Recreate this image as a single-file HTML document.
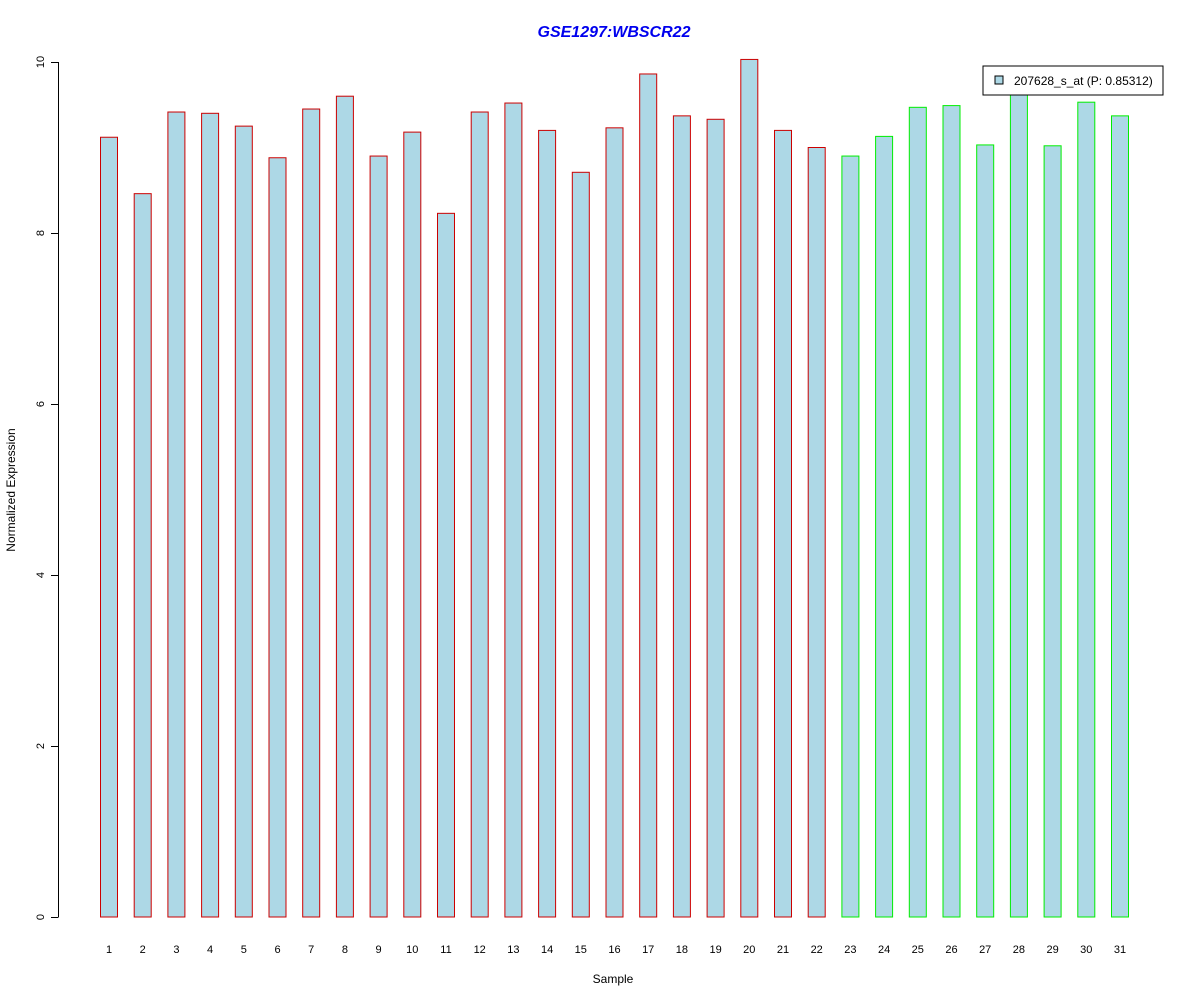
<!DOCTYPE html>
<html><head><meta charset="utf-8"><style>
body{margin:0;background:#fff;font-family:"Liberation Sans",Arial,sans-serif}
</style></head><body>
<svg id="chart" width="1200" height="1000" xmlns="http://www.w3.org/2000/svg" font-family="Liberation Sans, Arial, sans-serif">
<text x="614" y="37" text-anchor="middle" font-size="16" font-weight="bold" font-style="italic" fill="#0000ee">GSE1297:WBSCR22</text>
<text x="613" y="983" text-anchor="middle" font-size="12">Sample</text>
<text x="15" y="490" text-anchor="middle" font-size="12" transform="rotate(-90 15 490)">Normalized Expression</text>
<g id="bars"></g><g id="yaxis"></g><g id="xlabels"></g>
<g>
<rect x="983" y="66" width="180" height="29" fill="#fff" stroke="#000"/>
<rect x="995" y="76" width="8" height="8" fill="#add8e6" stroke="#000"/>
<text x="1014" y="85" font-size="12">207628_s_at (P: 0.85312)</text>
</g>
</svg>
<script>
const categories=["1","2","3","4","5","6","7","8","9","10","11","12","13","14","15","16","17","18","19","20","21","22","23","24","25","26","27","28","29","30","31"];
const values=[9.12,8.46,9.415,9.40,9.25,8.88,9.45,9.60,8.90,9.18,8.23,9.415,9.52,9.20,8.71,9.23,9.86,9.37,9.33,10.03,9.20,9.0,8.90,9.13,9.47,9.49,9.03,9.75,9.02,9.53,9.37];
const groups=[0,0,0,0,0,0,0,0,0,0,0,0,0,0,0,0,0,0,0,0,0,0,1,1,1,1,1,1,1,1,1];
const yTicks=[0,2,4,6,8,10];
const NS="http://www.w3.org/2000/svg";
function y(v){return 917-v*85.5;}
function x(i){return 100+i*33.7;}
const bw=17;
const bars=document.getElementById('bars');
values.forEach((v,i)=>{
 const r=document.createElementNS(NS,'rect');
 
 
 r.setAttribute('x',x(i)+0.5);r.setAttribute('y',y(v));
 r.setAttribute('width',bw);r.setAttribute('height',917-y(v));
 r.setAttribute('fill','#add8e6');r.setAttribute('stroke',groups[i]?'#00ee00':'#cc0000');
 bars.appendChild(r);
 const t=document.createElementNS(NS,'text');
 
 
 t.setAttribute('x',x(i)+bw/2+0.5);t.setAttribute('y',953);
 t.setAttribute('text-anchor','middle');t.setAttribute('font-size','11');
 t.textContent=categories[i];
 document.getElementById('xlabels').appendChild(t);
});
const ya=document.getElementById('yaxis');
const ax=document.createElementNS(NS,'line');


ax.setAttribute('x1',58.5);ax.setAttribute('x2',58.5);ax.setAttribute('y1',y(0));ax.setAttribute('y2',y(10));ax.setAttribute('stroke','#000');
ya.appendChild(ax);
yTicks.forEach(v=>{
 const l=document.createElementNS(NS,'line');
 
 
 l.setAttribute('x1',51);l.setAttribute('x2',58.5);l.setAttribute('y1',y(v)+0.5);l.setAttribute('y2',y(v)+0.5);l.setAttribute('stroke','#000');
 ya.appendChild(l);
 const t=document.createElementNS(NS,'text');
 
 
 t.setAttribute('x',44);t.setAttribute('y',y(v));
 t.setAttribute('text-anchor','middle');t.setAttribute('font-size','11');
 t.setAttribute('transform','rotate(-90 44 '+y(v)+')');
 t.textContent=v;
 ya.appendChild(t);
});
</script>
</body></html>
